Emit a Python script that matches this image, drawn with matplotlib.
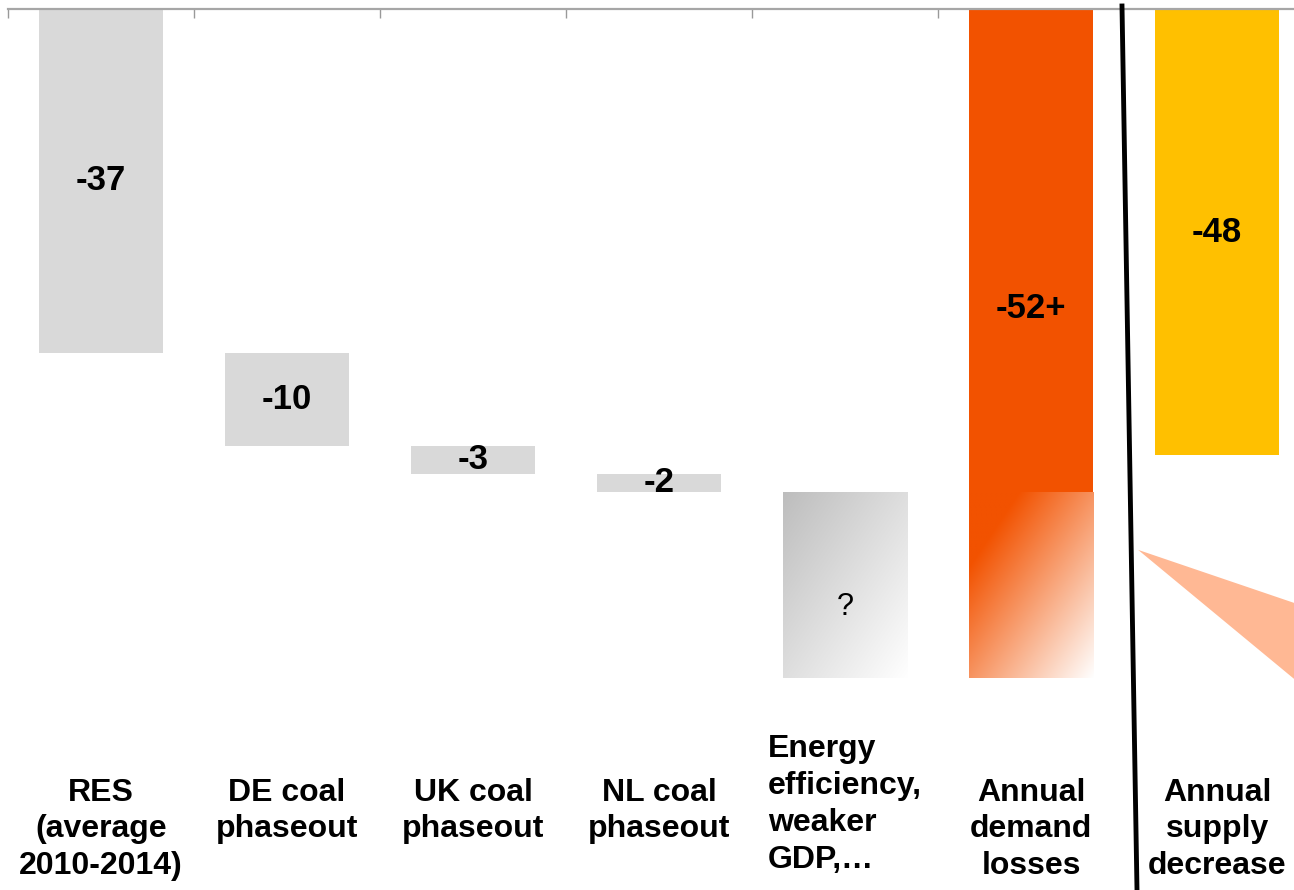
import numpy as np
import matplotlib.pyplot as plt
from matplotlib.lines import Line2D
from matplotlib.colors import to_rgb

plt.rcParams['font.family'] = ['Liberation Sans', 'DejaVu Sans']

# data
categories = ['RES\n(average\n2010-2014)', 'DE coal\nphaseout', 'UK coal\nphaseout',
              'NL coal\nphaseout', 'Energy\nefficiency,\nweaker\nGDP,\u2026',
              'Annual\ndemand\nlosses', 'Annual\nsupply\ndecrease']
steps = [-37, -10, -3, -2]
step_labels = ['-37', '-10', '-3', '-2']
unknown = -20          # estimated size of the "?" block
demand_loss = -52
demand_label = '-52+'
supply_decrease = -48
supply_label = '-48'

grey = '#D9D9D9'
orange = '#F25200'
yellow = '#FFC000'
w = 0.67
fs_val = 25   # value labels
fs_cat = 23   # category labels


def gradient_bar(ax, x, top, height, c0, start):
    # diagonal fade from c0 (top left) to white (bottom right)
    n = 200
    u, v = np.meshgrid(np.linspace(0, 1, n), np.linspace(0, 1, n))
    t = (u + v) / 2
    r = np.clip((t - start) / (1 - start), 0, 1)[..., None]
    img = np.array(to_rgb(c0)) * (1 - r) + np.ones(3) * r
    ax.imshow(img, extent=[x - w / 2, x + w / 2, top + height, top],
              origin='upper', aspect='auto', interpolation='bilinear', zorder=2)


fig = plt.figure(figsize=(12.94, 8.9), dpi=100)
ax = fig.add_axes([8 / 1294, 0, 1 - 8 / 1294, 1 - 9 / 890])

# waterfall steps
bottom = 0
for i, (s, lab) in enumerate(zip(steps, step_labels)):
    ax.bar(i, s, bottom=bottom, width=w, color=grey, linewidth=0, zorder=2)
    ax.text(i, bottom + s / 2, lab, ha='center', va='center', fontsize=fs_val,
            fontweight='bold', zorder=3)
    bottom += s

# unknown block
i_q = len(steps)
gradient_bar(ax, i_q, bottom, unknown, '#BDBDBD', 0.0)
ax.text(i_q, bottom + unknown * 0.62, '?', ha='center', va='center', fontsize=22, zorder=3)

# annual demand losses
i_d = i_q + 1
ax.bar(i_d, demand_loss, width=w, color=orange, linewidth=0, zorder=2)
gradient_bar(ax, i_d, demand_loss, unknown, orange, 0.2)
ax.text(i_d, demand_loss * 0.62, demand_label, ha='center', va='center', fontsize=fs_val,
        fontweight='bold', zorder=3)

# annual supply decrease
i_s = i_d + 1
ax.bar(i_s, supply_decrease, width=w, color=yellow, linewidth=0, zorder=2)
ax.text(i_s, supply_decrease / 2, supply_label, ha='center', va='center', fontsize=fs_val,
        fontweight='bold', zorder=3)

# callout wedge
ax.fill([5.575, 7, 7], [-58.2, -67.9, -81.8], color='#FFB894', linewidth=0, zorder=1)

# category labels
for i, c in enumerate(categories):
    if i == i_q:
        ax.text(i, -78.0, c, ha='center', va='top', multialignment='left',
                fontsize=fs_cat, fontweight='bold', linespacing=1.3)
    else:
        ax.text(i, -82.7, c, ha='center', va='top', fontsize=fs_cat,
                fontweight='bold', linespacing=1.3)

ax.set_xlim(-0.5, 6.413)
ax.set_ylim(-94.8, 0)
for s in ['left', 'right', 'bottom']:
    ax.spines[s].set_visible(False)
ax.spines['top'].set_color('#A6A6A6')
ax.spines['top'].set_linewidth(1.6)
ax.xaxis.tick_top()
ax.set_xticks(np.arange(-0.5, 5, 1))
ax.set_xticklabels([])
ax.tick_params(axis='x', direction='in', length=6.5, color='#999999', width=1)
ax.set_yticks([])

# divider line
fig.add_artist(Line2D([1122 / 1294, 1137 / 1294], [1 - 6 / 890, 0],
                      transform=fig.transFigure, color='black', linewidth=3.5))

fig.savefig('out.png', dpi=100)
